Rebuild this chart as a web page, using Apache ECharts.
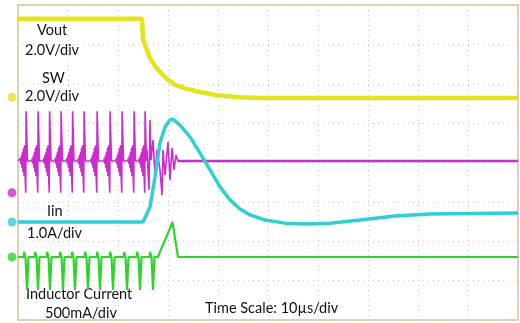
<!DOCTYPE html>
<html>
<head>
<meta charset="utf-8">
<script src="https://cdn.jsdelivr.net/npm/echarts@6/dist/echarts.min.js"></script>
<style>
    html, body { margin: 0; padding: 0; background: #fff; }
    #scope { width: 520px; height: 323px; }
</style>
</head>
<body>
<div id="scope"></div>
<script>
// time in µs (10 µs/div), values in screen divisions (0 = bottom, 8 = top)
const voutTrace = [[0, 7.65], [24.8, 7.65], [25.0, 7.11], [26.4, 6.65], [27.4, 6.45], [28.4, 6.30], [29.8, 6.12],
    [31.4, 5.97], [33.8, 5.87], [36.4, 5.79], [39.8, 5.71], [44.4, 5.66], [48.4, 5.64], [100, 5.64]];

const iinTrace = [[0, 2.49], [25.0, 2.49], [26.4, 2.87], [27.4, 3.63], [28.4, 4.50], [29.4, 4.90], [30.4, 5.08],
    [31.0, 5.10], [32.4, 4.95], [34.4, 4.65], [36.4, 4.24], [38.4, 3.81], [40.4, 3.38], [42.4, 3.05],
    [44.4, 2.82], [46.4, 2.67], [49.4, 2.54], [53.4, 2.46], [57.4, 2.44], [62.4, 2.46], [68.4, 2.54],
    [75.4, 2.64], [82.4, 2.69], [100, 2.72]];

const swPulseShape = [[-1.3, 4.04], [-1.1, 4.11], [-1.0, 3.96], [-0.9, 4.19], [-0.8, 3.86], [-0.7, 4.27],
    [-0.6, 3.76], [-0.5, 4.37], [-0.4, 3.66], [-0.3, 4.44], [-0.15, 3.56], [-0.05, 3.23], [0, 3.23],
    [0.02, 5.30], [0.25, 5.30], [0.3, 4.04]];
const swEdges = [1.6, 4.0, 6.3, 8.6, 10.9, 13.2, 15.8, 18.4, 20.8, 23.2, 25.4];
const swTail = [[25.8, 4.32], [26.2, 3.30], [26.4, 5.08], [26.6, 4.06], [27.0, 4.57], [27.4, 3.68], [27.8, 4.32],
    [28.4, 3.81], [28.8, 3.17], [29.0, 4.32], [29.4, 3.68], [30.0, 4.52], [30.4, 3.56], [30.8, 4.37],
    [31.2, 3.81], [31.6, 4.19], [32.0, 4.04]];
const swFlat = [[32.0, 4.04], [100, 4.04]];

// inductor current: one dip, dip positions, then the final spike and flat part
const ilPulseShape = [[-0.65, 1.60], [-0.6, 1.73], [-0.35, 1.73], [-0.3, 1.60], [0, 0.76], [0.3, 1.60]];
const ilDips = [1.8, 4.0, 6.4, 9.0, 11.4, 14.0, 16.4, 19.0, 21.8, 24.4, 27.0];
const ilTail = [[28.0, 1.60], [28.4, 1.73], [29.4, 2.03], [30.9, 2.49], [32.0, 1.60], [100, 1.60]];

// channel ground markers on the left edge
const markerLevels = [5.66, 3.23, 2.49, 1.60];

const colors = {
    vout: '#e4e41c',
    sw: '#cc2ccc',
    iin: '#2fcfd6',
    il: '#2fd42a',
    frame: '#d8c490',
    grid: '#c8c8c8'
};

const buildSwitching = (start, shape, times, tail) => {
    let pts = [start];
    times.forEach((t0) => {
        shape.forEach((p) => {
            pts.push([+(t0 + p[0]).toFixed(3), p[1]]);
        });
    });
    return pts.concat(tail);
};

const swTrace = buildSwitching([0, 4.04], swPulseShape, swEdges, swTail);
const ilTrace = buildSwitching([0, 1.60], ilPulseShape, ilDips, ilTail);

const chart = echarts.init(document.getElementById('scope'), null, { renderer: 'canvas' });

// labels are placed by their vertical centre
const label = (txt, x, cy) => ({
    type: 'text',
    left: x,
    top: cy - 9,
    style: {
        text: txt,
        fill: '#111',
        font: '14.5px Lato, "Open Sans", sans-serif'
    }
});

const line = (name, data, color, width) => ({
    name: name,
    type: 'line',
    data: data,
    showSymbol: false,
    symbol: 'none',
    animation: false,
    lineStyle: { color: color, width: width },
    z: 3
});

const option = {
    animation: false,
    grid: {
        left: 18,
        top: 5,
        right: 2,
        bottom: 3,
        show: true,
        borderColor: colors.frame,
        borderWidth: 1.5
    },
    xAxis: {
        type: 'value',
        min: 0,
        max: 100,
        interval: 10,
        axisLine: { show: false },
        axisLabel: { show: false },
        axisTick: { show: false },
        splitLine: { show: true, lineStyle: { color: colors.grid, type: [1, 4], width: 1 } }
    },
    yAxis: {
        type: 'value',
        min: 0,
        max: 8,
        interval: 1,
        axisLine: { show: false },
        axisLabel: { show: false },
        axisTick: { show: false },
        splitLine: { show: true, lineStyle: { color: colors.grid, type: [1, 4], width: 1 } }
    },
    series: [
        line('Inductor Current', ilTrace, colors.il, 2.2),
        line('SW', swTrace, colors.sw, 1.6),
        line('SW flat', swFlat, colors.sw, 2.6),
        line('Iin', iinTrace, colors.iin, 3.5),
        line('Vout', voutTrace, colors.vout, 4.5),
        {
            type: 'scatter',
            clip: false,
            symbol: 'circle',
            symbolSize: 9,
            animation: false,
            data: markerLevels.map((v, i) => ({
                value: [-1.2, v],
                itemStyle: { color: [colors.vout, colors.sw, colors.iin, colors.il][i] }
            })),
            z: 5
        }
    ],
    graphic: [
        label('Vout', 37, 32),
        label('2.0V/div', 25, 52),
        label('SW', 42, 80),
        label('2.0V/div', 25, 98),
        label('Iin', 47, 213),
        label('1.0A/div', 27, 235),
        label('Inductor Current', 26, 296),
        label('500mA/div', 45, 315),
        label('Time Scale: 10µs/div', 205, 310)
    ]
};

chart.setOption(option);
</script>
</body>
</html>
